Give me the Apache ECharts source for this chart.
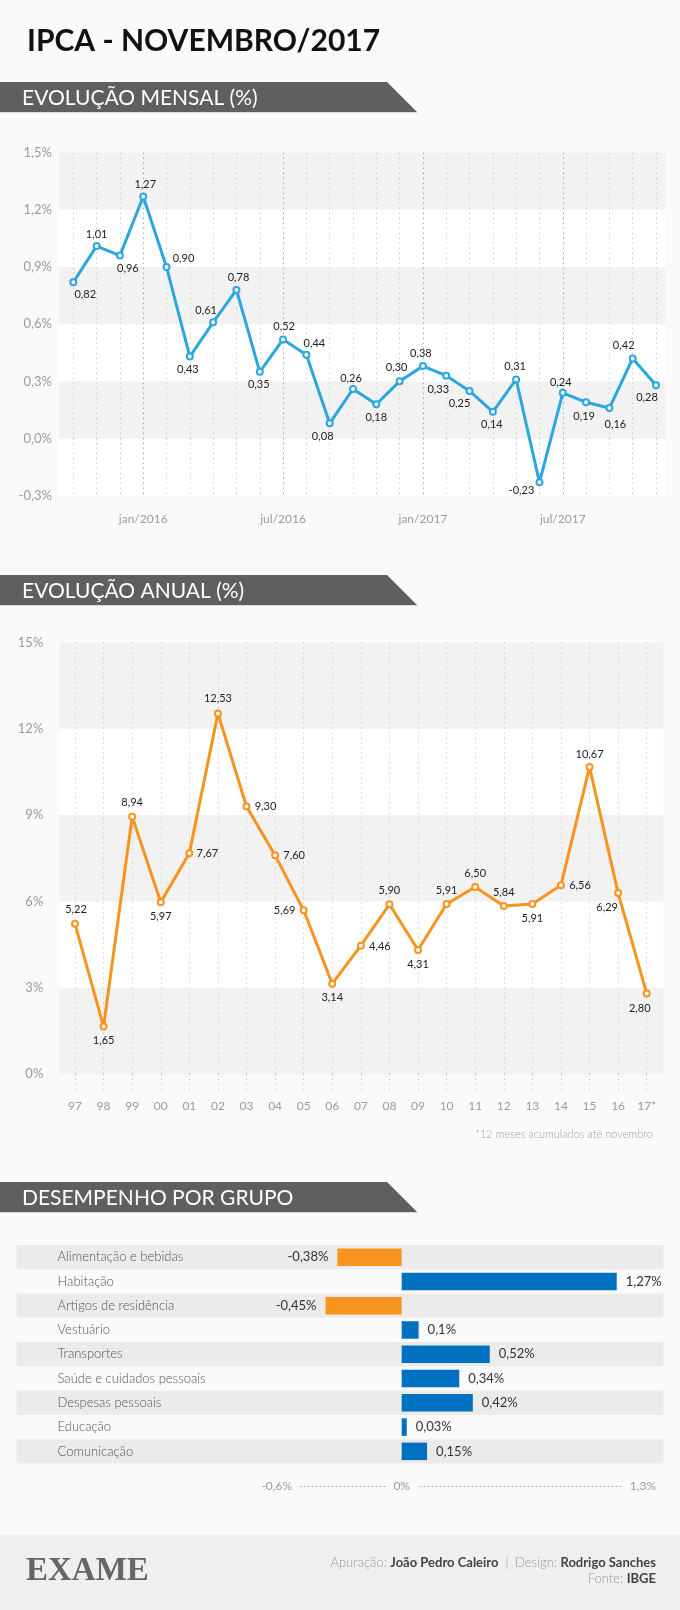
<!DOCTYPE html>
<html><head><meta charset="utf-8">
<script src="https://cdn.jsdelivr.net/npm/echarts@6/dist/echarts.min.js"></script>
<style>html,body{margin:0;padding:0;background:#fafafa}#c{width:680px;height:1610px}</style>
</head><body><div id="c"></div>
<script>
// ---------- DATA ----------
const mensalCategorias = ['out/2015','nov/2015','dez/2015','jan/2016','fev/2016','mar/2016','abr/2016','mai/2016','jun/2016','jul/2016','ago/2016','set/2016','out/2016','nov/2016','dez/2016','jan/2017','fev/2017','mar/2017','abr/2017','mai/2017','jun/2017','jul/2017','ago/2017','set/2017','out/2017','nov/2017'];
const mensalValores = [0.82,1.01,0.96,1.27,0.90,0.43,0.61,0.78,0.35,0.52,0.44,0.08,0.26,0.18,0.30,0.38,0.33,0.25,0.14,0.31,-0.23,0.24,0.19,0.16,0.42,0.28];
const mensalMarcos = ['jan/2016','jul/2016','jan/2017','jul/2017'];

const anualCategorias = ['97','98','99','00','01','02','03','04','05','06','07','08','09','10','11','12','13','14','15','16','17*'];
const anualValores = [5.22,1.65,8.94,5.97,7.67,12.53,9.30,7.60,5.69,3.14,4.46,5.90,4.31,5.91,6.50,5.84,5.91,6.56,10.67,6.29,2.80];

const grupos = ['Alimentação e bebidas','Habitação','Artigos de residência','Vestuário','Transportes','Saúde e cuidados pessoais','Despesas pessoais','Educação','Comunicação'];
const gruposValores = [-0.38,1.27,-0.45,0.1,0.52,0.34,0.42,0.03,0.15];
const gruposEixo = [-0.6, 0, 1.3];

// label placement (layout only)
const mensalLabelOffset = [[12,12],[0,-12],[8,13],[2,-12],[17,-9],[-2,13],[-7,-12],[2,-12],[-1,13],[1,-13],[8,-11],[-7,13],[-2,-11],[0,13],[-3,-14],[-2,-13],[-8,14],[-10,13],[-1,13],[-1,-13],[-18,8],[-2,-10],[-2,14],[6,16],[-9,-13],[-9,12]];
const anualLabelOffset = [[1,-14],[0,14],[0,-14],[0,14],[18,0],[0,-15],[19,0],[19,0],[-19,0],[0,14],[19,1],[0,-14],[0,14],[0,-14],[0,-14],[0,-14],[0,14],[19,0],[0,-13],[-11,14],[-7,15]];

// ---------- STYLE ----------
const FONT = 'Lato, "Noto Sans", sans-serif';
const AZUL = '#2ba6de';
const LARANJA = '#f7931e';
const BARRA_AZUL = '#0070c0';
const CINZA_LINHA = '#bdbdbd';
const AZUL_LINHA = '#5b86d6';
const PONTILHADO = [1, 4];

const fmt2 = v => v.toFixed(2).replace('.', ',');

const chart = echarts.init(document.getElementById('c'), null, {renderer: 'canvas'});

function header(y, text) {
  return [
    {type: 'polygon', shape: {points: [[0, y + 1], [388, y + 1], [418, y + 31], [0, y + 31]]}, style: {fill: '#d9d9d9'}, silent: true},
    {type: 'polygon', shape: {points: [[0, y], [387, y], [417, y + 30], [0, y + 30]]}, style: {fill: '#5f5f5f'}, silent: true},
    {type: 'text', x: 22, y: y + 16, style: {text: text, fill: '#ffffff', font: '400 21px ' + FONT, verticalAlign: 'middle', align: 'left'}, silent: true}
  ];
}

const hiddenVal = (gi, min, max) => ({type: 'value', gridIndex: gi, min: min, max: max, show: false});

const option = {
  backgroundColor: '#fafafa',
  animation: false,
  textStyle: {fontFamily: FONT},
  grid: [
    {left: 59, right: 15, top: 152.7, height: 343},
    {left: 73.3, right: 24, top: 152.7, height: 343},
    {left: 59.3, right: 16.7, top: 642.5, height: 431.5},
    {left: 75, right: 33.3, top: 642.5, height: 431.5},
    {left: 16.5, right: 16.5, top: 1245, height: 218.5},
    {left: 300.1, right: 58.2, top: 1245, height: 218.5}
  ],
  xAxis: [
    hiddenVal(0, 0, 1),
    {
      type: 'category', gridIndex: 1, data: mensalCategorias, boundaryGap: false,
      axisLine: {show: false},
      axisTick: {show: true, length: 10, lineStyle: {type: PONTILHADO, color: CINZA_LINHA}},
      splitLine: {show: true, lineStyle: {type: PONTILHADO, width: 1, color: mensalCategorias.map(c => mensalMarcos.includes(c) ? AZUL_LINHA : CINZA_LINHA)}},
      axisLabel: {interval: 0, margin: 17, fontSize: 12, color: '#9a9a9a', fontFamily: FONT,
        formatter: v => mensalMarcos.includes(v) ? v : ''}
    },
    hiddenVal(2, 0, 1),
    {
      type: 'category', gridIndex: 3, data: anualCategorias, boundaryGap: false,
      axisLine: {show: false},
      axisTick: {show: true, length: 17, lineStyle: {type: PONTILHADO, color: CINZA_LINHA}},
      splitLine: {show: true, lineStyle: {type: PONTILHADO, width: 1, color: CINZA_LINHA}},
      axisLabel: {interval: 0, margin: 26, fontSize: 12, color: '#9a9a9a', fontFamily: FONT}
    },
    hiddenVal(4, 0, 1),
    {
      type: 'value', gridIndex: 5, min: -0.6, max: 1.3, position: 'bottom', offset: 23,
      axisLine: {show: true, lineStyle: {type: [1, 3], color: '#a8a8a8', width: 1}},
      axisTick: {show: false}, splitLine: {show: false},
      axisLabel: {
        customValues: gruposEixo, margin: 0, verticalAlign: 'middle',
        alignMinLabel: 'right', alignMaxLabel: 'left',
        backgroundColor: '#fafafa', padding: [2, 8],
        fontSize: 12, color: '#9a9a9a', fontFamily: FONT,
        formatter: v => String(v).replace('.', ',') + '%'
      }
    }
  ],
  yAxis: [
    {
      type: 'value', gridIndex: 0, min: -0.3, max: 1.5, interval: 0.3,
      axisLine: {show: false}, axisTick: {show: false}, splitLine: {show: false},
      splitArea: {show: true, areaStyle: {color: ['#ffffff', '#f2f2f2']}},
      axisLabel: {margin: 7, fontSize: 13, color: '#9a9a9a', fontFamily: FONT,
        formatter: v => v.toFixed(1).replace('.', ',').replace('-0,0', '0,0') + '%'}
    },
    hiddenVal(1, -0.3, 1.5),
    {
      type: 'value', gridIndex: 2, min: 0, max: 15, interval: 3,
      axisLine: {show: false}, axisTick: {show: false}, splitLine: {show: false},
      splitArea: {show: true, areaStyle: {color: ['#f2f2f2', '#ffffff']}},
      axisLabel: {margin: 16, fontSize: 13, color: '#9a9a9a', fontFamily: FONT, formatter: v => v + '%'}
    },
    hiddenVal(3, 0, 15),
    {
      type: 'category', gridIndex: 4, data: grupos, inverse: true,
      axisLine: {show: false}, axisTick: {show: false}, splitLine: {show: false},
      splitArea: {show: true, areaStyle: {color: ['#ebebeb', 'rgba(0,0,0,0)']}},
      axisLabel: {inside: true, margin: 41, fontSize: 13, color: '#555555', fontFamily: FONT, fontWeight: 300}
    },
    {type: 'category', gridIndex: 5, data: grupos, inverse: true, show: false}
  ],
  series: [
    {
      type: 'line', xAxisIndex: 1, yAxisIndex: 1,
      data: mensalValores.map((v, i) => ({value: v, label: {offset: mensalLabelOffset[i]}})),
      symbol: 'circle', symbolSize: 6,
      lineStyle: {color: AZUL, width: 3},
      itemStyle: {color: '#ffffff', borderColor: AZUL, borderWidth: 2},
      label: {show: true, position: 'inside', fontSize: 11, color: '#222', fontFamily: FONT,
        formatter: p => fmt2(p.value)},
      emphasis: {disabled: true}, z: 5
    },
    {
      type: 'line', xAxisIndex: 3, yAxisIndex: 3,
      data: anualValores.map((v, i) => ({value: v, label: {offset: anualLabelOffset[i]}})),
      symbol: 'circle', symbolSize: 6,
      lineStyle: {color: LARANJA, width: 3},
      itemStyle: {color: '#ffffff', borderColor: LARANJA, borderWidth: 2},
      label: {show: true, position: 'inside', fontSize: 11, color: '#222', fontFamily: FONT,
        formatter: p => fmt2(p.value)},
      emphasis: {disabled: true}, z: 5
    },
    {
      type: 'bar', xAxisIndex: 5, yAxisIndex: 5, barWidth: 17.5,
      data: gruposValores.map(v => ({
        value: v,
        itemStyle: {color: v < 0 ? LARANJA : BARRA_AZUL},
        label: {position: v < 0 ? 'left' : 'right'}
      })),
      label: {show: true, distance: 9, fontSize: 13, color: '#333', fontFamily: FONT,
        formatter: p => String(p.value).replace('.', ',') + '%'},
      emphasis: {disabled: true}
    }
  ],
  graphic: [
    {type: 'text', x: 27, y: 41, style: {text: 'IPCA - NOVEMBRO/2017', fill: '#111', font: 'bold 30px ' + FONT, verticalAlign: 'middle'}, silent: true},
    ...header(82, 'EVOLUÇÃO MENSAL (%)'),
    ...header(575, 'EVOLUÇÃO ANUAL (%)'),
    ...header(1182, 'DESEMPENHO POR GRUPO'),
    {type: 'text', x: 653, y: 1134, style: {text: '*12 meses acumulados até novembro', fill: '#a0a0a0', font: '300 11px ' + FONT, align: 'right', verticalAlign: 'middle'}, silent: true},
    {type: 'rect', shape: {x: 0, y: 1535, width: 680, height: 75}, style: {fill: '#efefef'}, silent: true},
    {type: 'text', x: 26, y: 1571, style: {text: 'EXAME', fill: '#666666', font: 'bold 33px "Liberation Serif", "DejaVu Serif", serif', verticalAlign: 'middle'}, silent: true},
    {type: 'text', x: 656, y: 1563, style: {
      text: '{l|Apuração: }{b|João Pedro Caleiro}{s|  |  }{l|Design: }{b|Rodrigo Sanches}',
      align: 'right', verticalAlign: 'middle',
      rich: {
        l: {fontSize: 13, fontFamily: FONT, fontWeight: 300, fill: '#9a9a9a', color: '#9a9a9a'},
        b: {fontSize: 13, fontFamily: FONT, fontWeight: 'bold', fill: '#444', color: '#444'},
        s: {fontSize: 13, fontFamily: FONT, fill: '#c0c0c0', color: '#c0c0c0'}
      }}, silent: true},
    {type: 'text', x: 656, y: 1579, style: {
      text: '{l|Fonte: }{b|IBGE}',
      align: 'right', verticalAlign: 'middle',
      rich: {
        l: {fontSize: 13, fontFamily: FONT, fontWeight: 300, fill: '#9a9a9a', color: '#9a9a9a'},
        b: {fontSize: 13, fontFamily: FONT, fontWeight: 'bold', fill: '#444', color: '#444'}
      }}, silent: true}
  ]
};
chart.setOption(option);
</script>
</body></html>
